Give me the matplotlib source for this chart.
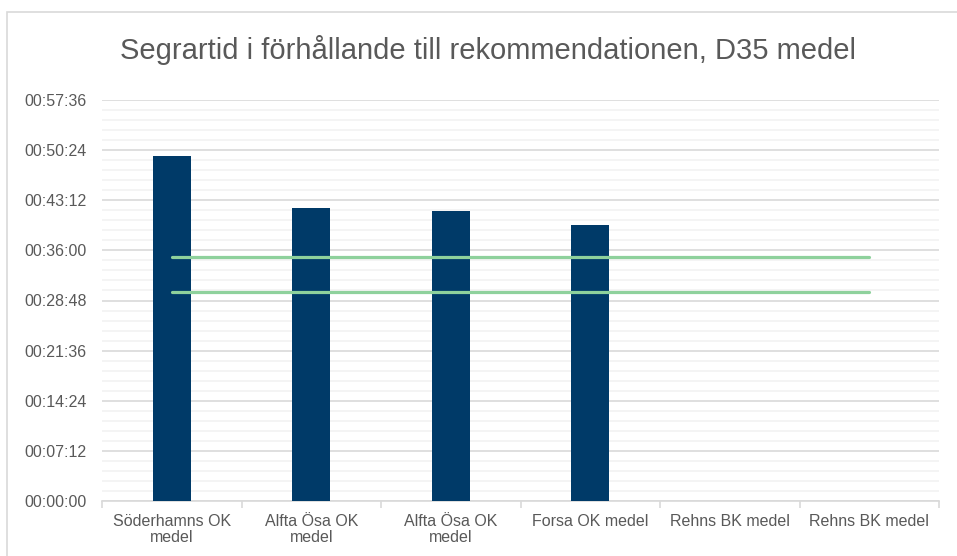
import matplotlib
matplotlib.use("Agg")
import matplotlib.pyplot as plt
from matplotlib.ticker import FuncFormatter, MultipleLocator, FixedLocator
from matplotlib.patches import Rectangle
import numpy as np

plt.rcParams['font.family'] = ['Liberation Sans', 'DejaVu Sans']

title = "Segrartid i förhållande till rekommendationen, D35 medel"
categories = ["Söderhamns OK\nmedel", "Alfta Ösa OK\nmedel", "Alfta Ösa OK\nmedel",
              "Forsa OK medel", "Rehns BK medel", "Rehns BK medel"]
# winning times in seconds (NaN = no value)
winning_time = [2972, 2523, 2497, 2376, np.nan, np.nan]
rec_upper = [2100, 2100, 2100, 2100, 2100, 2100]
rec_lower = [1800, 1800, 1800, 1800, 1800, 1800]
y_max = 3456
y_major = 432

W, H = 957, 556
fig = plt.figure(figsize=(W / 100, H / 100), dpi=100)
fig.patch.set_facecolor("white")
fig.add_artist(Rectangle((7 / W, -0.1), 1.2, 1 - 12 / H + 0.1, transform=fig.transFigure,
                         fill=False, edgecolor="#D9D9D9", linewidth=1.2))

ax = fig.add_axes([102 / W, 1 - 501 / H, (939 - 102) / W, (501 - 100) / H])
x = np.arange(len(categories))
ax.bar(x, winning_time, width=0.27, color="#003A68", zorder=3)
ax.plot(x, rec_upper, color="#8ED19C", linewidth=2.3, zorder=4, solid_capstyle="round")
ax.plot(x, rec_lower, color="#8ED19C", linewidth=2.3, zorder=4, solid_capstyle="round")

ax.set_xlim(-0.5, len(categories) - 0.5)
ax.set_ylim(0, y_max)

def fmt(v, pos):
    v = int(round(v))
    return "%02d:%02d:%02d" % (v // 3600, (v % 3600) // 60, v % 60)

ax.yaxis.set_major_locator(MultipleLocator(y_major))
ax.yaxis.set_minor_locator(MultipleLocator(y_major / 5))
ax.yaxis.set_major_formatter(FuncFormatter(fmt))
ax.grid(axis="y", which="major", color="#D9D9D9", linewidth=1.2, zorder=0)
ax.grid(axis="y", which="minor", color="#F2F2F2", linewidth=1.2, zorder=0)
ax.set_axisbelow(True)

ax.set_xticks(x)
ax.set_xticklabels(categories, fontsize=11.5, color="#595959", linespacing=1.15)
ax.xaxis.set_minor_locator(FixedLocator(np.arange(-0.5, len(categories), 1.0)))
ax.tick_params(axis="x", which="major", length=0, pad=9)
ax.tick_params(axis="x", which="minor", length=5, color="#D9D9D9", width=1.2)
ax.tick_params(axis="y", which="both", length=0, labelsize=11.5, labelcolor="#595959", pad=11)

for s in ["top", "right", "left"]:
    ax.spines[s].set_visible(False)
ax.spines["bottom"].set_color("#D9D9D9")
ax.spines["bottom"].set_linewidth(1.2)

fig.text(488 / W, 1 - 50 / H, title, ha="center", va="center", fontsize=21, color="#595959")

fig.savefig("out.png", dpi=100)
